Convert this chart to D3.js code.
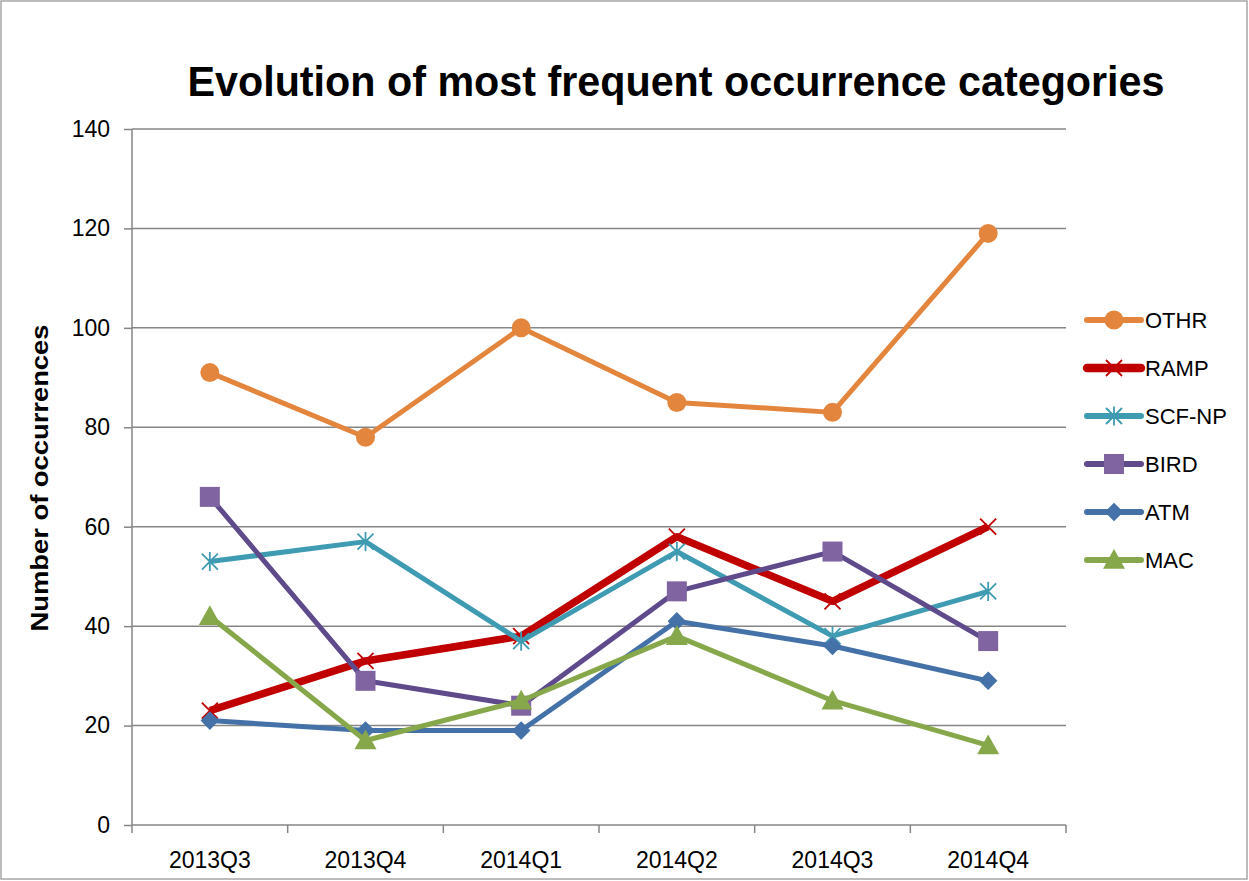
<!DOCTYPE html>
<html>
<head>
<meta charset="utf-8">
<script src="https://cdn.jsdelivr.net/npm/d3@7"></script>
<style>
  body { margin: 0; background: #fff; }
  text { font-family: "Liberation Sans", "DejaVu Sans", sans-serif; fill: #000; }
</style>
</head>
<body>
<svg></svg>
<script>
///////////////////////////////////////////
// Data
var quarters = ["2013Q3", "2013Q4", "2014Q1", "2014Q2", "2014Q3", "2014Q4"];
var yTicks = [0, 20, 40, 60, 80, 100, 120, 140];

var othr  = [91, 78, 100, 85, 83, 119];
var ramp  = [23, 33, 38, 58, 45, 60];
var scfnp = [53, 57, 37, 55, 38, 47];
var bird  = [66, 29, 24, 47, 55, 37];
var atm   = [21, 19, 19, 41, 36, 29];
var mac   = [42, 17, 25, 38, 25, 16];

var seriesNames = ["OTHR", "RAMP", "SCF-NP", "BIRD", "ATM", "MAC"];

///////////////////////////////////////////
// Layout Setting
var svgWidth = 1249, svgHeight = 881;
var margin = {top: 129, right: 183, bottom: 56, left: 132},
    width = svgWidth - margin.left - margin.right,
    height = svgHeight - margin.top - margin.bottom;

// styles per series (line colour, marker colour, line width, marker)
var styles = [
  {line: "#E3853D", fill: "#E3853D", w: 5,   shape: "circle"},
  {line: "#C00000", fill: "#C00000", w: 7.5, shape: "x"},
  {line: "#3F9BB2", fill: "#3F9BB2", w: 5,   shape: "star"},
  {line: "#5F4B8B", fill: "#8064A2", w: 5,   shape: "square"},
  {line: "#4371A8", fill: "#4371A8", w: 5,   shape: "diamond"},
  {line: "#86A84A", fill: "#86A84A", w: 5,   shape: "triangle"}
];
var values = [othr, ramp, scfnp, bird, atm, mac];

var svg = d3.select("svg").attr("width", svgWidth).attr("height", svgHeight);

// outer frame
svg.append("rect")
  .attr("x", 1).attr("y", 1)
  .attr("width", svgWidth - 3).attr("height", svgHeight - 3)
  .attr("fill", "#fff").attr("stroke", "#A6A6A6").attr("stroke-width", 1.5);

var g = svg.append("g").attr("transform", "translate(" + [margin.left, margin.top] + ")");

var x = d3.scaleBand().domain(quarters).range([0, width]);
var y = d3.scaleLinear().domain([0, 140]).range([height, 0]);

// gridlines
g.append("g").selectAll("line").data(yTicks.slice(1)).join("line")
  .attr("x1", 0).attr("x2", width)
  .attr("y1", function(d){ return y(d); }).attr("y2", function(d){ return y(d); })
  .attr("stroke", "#868686").attr("stroke-width", 1.5);

// y axis
var yAxis = g.append("g")
  .call(d3.axisLeft(y).tickValues(yTicks).tickSize(8).tickPadding(14));
yAxis.select(".domain").attr("stroke", "#868686").attr("stroke-width", 1.5).attr("d", "M0,0V" + height);
yAxis.selectAll(".tick line").attr("stroke", "#868686").attr("stroke-width", 1.5);
yAxis.selectAll("text").style("font-size", "23px").attr("fill", "#000");

// x axis: ticks at band boundaries
var xAxis = g.append("g").attr("transform", "translate(0," + height + ")");
xAxis.append("line").attr("x1", 0).attr("x2", width)
  .attr("stroke", "#868686").attr("stroke-width", 1.5);
var bounds = quarters.map(function(q){ return x(q); }).concat([width]);
xAxis.selectAll("line.tk").data(bounds).join("line").attr("class", "tk")
  .attr("x1", function(d){ return d; }).attr("x2", function(d){ return d; })
  .attr("y1", 0).attr("y2", 8)
  .attr("stroke", "#868686").attr("stroke-width", 1.5);
xAxis.selectAll("text").data(quarters).join("text")
  .attr("x", function(d){ return x(d) + x.bandwidth() / 2; })
  .attr("y", 43)
  .attr("text-anchor", "middle")
  .style("font-size", "23px")
  .text(function(d){ return d; });

// markers
function drawMarker(sel, shape, color) {
  if (shape === "circle") {
    sel.append("circle").attr("r", 9.5).attr("fill", color);
  } else if (shape === "square") {
    sel.append("rect").attr("x", -10).attr("y", -10)
      .attr("width", 20).attr("height", 20).attr("fill", color);
  } else if (shape === "diamond") {
    sel.append("path").attr("d", d3.symbol(d3.symbolDiamond2, 220)).attr("fill", color);
  } else if (shape === "triangle") {
    var r = 11;
    sel.append("path").attr("d", "M0," + (-r) + "L" + r + "," + (r * 0.8) + "L" + (-r) + "," + (r * 0.8) + "Z").attr("fill", color);
  } else if (shape === "x") {
    var a = 8;
    sel.append("path").attr("d", "M" + (-a) + "," + (-a) + "L" + a + "," + a + "M" + (-a) + "," + a + "L" + a + "," + (-a))
      .attr("stroke", color).attr("stroke-width", 1.8).attr("fill", "none");
  } else if (shape === "star") {
    var b = 8;
    sel.append("path").attr("d", "M" + (-b) + "," + (-b) + "L" + b + "," + b + "M" + (-b) + "," + b + "L" + b + "," + (-b) + "M0," + (-b * 1.2) + "V" + (b * 1.2))
      .attr("stroke", color).attr("stroke-width", 1.8).attr("fill", "none");
  }
}

var line = d3.line()
  .x(function(d, i){ return x(quarters[i]) + x.bandwidth() / 2; })
  .y(function(d){ return y(d); });

values.forEach(function(vals, k) {
  var st = styles[k];
  var sg = g.append("g").attr("class", "series");
  sg.append("path").datum(vals)
    .attr("d", line)
    .attr("fill", "none")
    .attr("stroke", st.line)
    .attr("stroke-width", st.w)
    .attr("stroke-linejoin", "round");
  sg.selectAll("g.pt").data(vals).join("g").attr("class", "pt")
    .attr("transform", function(d, i){ return "translate(" + [x(quarters[i]) + x.bandwidth() / 2, y(d)] + ")"; })
    .each(function(){ drawMarker(d3.select(this), st.shape, st.fill); });
});

// legend
var legend = svg.append("g").attr("transform", "translate(1087,320)");
seriesNames.forEach(function(name, k) {
  var st = styles[k];
  var lg = legend.append("g").attr("transform", "translate(0," + (k * 48) + ")");
  lg.append("line").attr("x1", 0).attr("x2", 54)
    .attr("stroke", st.line).attr("stroke-width", st.w + 1).attr("stroke-linecap", "round");
  var m = lg.append("g").attr("transform", "translate(27,0)");
  drawMarker(m, st.shape, st.fill);
  lg.append("text").attr("x", 58).attr("y", 8).style("font-size", "22px").text(name);
});

// title
svg.append("text")
  .attr("x", 676).attr("y", 96)
  .attr("text-anchor", "middle")
  .attr("textLength", 977).attr("lengthAdjust", "spacingAndGlyphs")
  .style("font-size", "43px").style("font-weight", "bold")
  .text("Evolution of most frequent occurrence categories");

// y label
svg.append("text")
  .attr("transform", "translate(48,478) rotate(-90)")
  .attr("text-anchor", "middle")
  .attr("textLength", 307).attr("lengthAdjust", "spacingAndGlyphs")
  .style("font-size", "23px").style("font-weight", "bold")
  .text("Number of occurrences");
</script>
</body>
</html>
